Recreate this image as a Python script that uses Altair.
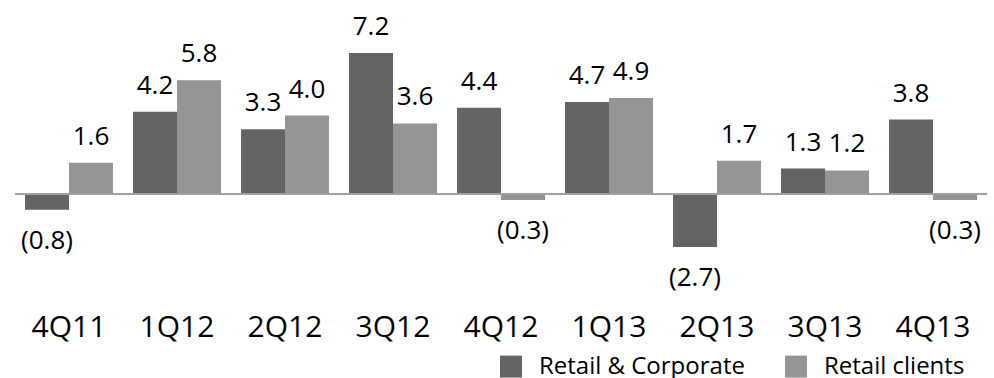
import altair as alt
import pandas as pd

quarters = ["4Q11", "1Q12", "2Q12", "3Q12", "4Q12", "1Q13", "2Q13", "3Q13", "4Q13"]
retail_corporate = [-0.8, 4.2, 3.3, 7.2, 4.4, 4.7, -2.7, 1.3, 3.8]
retail_clients = [1.6, 5.8, 4.0, 3.6, -0.3, 4.9, 1.7, 1.2, -0.3]
series = ["Retail & Corporate", "Retail clients"]
colors = ["#646464", "#959595"]

rows = []
for q, a, b in zip(quarters, retail_corporate, retail_clients):
    rows.append({"q": q, "s": series[0], "v": a})
    rows.append({"q": q, "s": series[1], "v": b})
df = pd.DataFrame(rows)
df["label"] = df["v"].apply(lambda v: f"{v:.1f}" if v >= 0 else f"({abs(v):.1f})")

FONT = "Open Sans"
W = 972
H = 254.8

x_enc = alt.X(
    "q:N", sort=quarters,
    scale=alt.Scale(paddingInner=20 / 108, paddingOuter=10 / 108),
    axis=alt.Axis(title=None, labelAngle=0, labelFontSize=30, labelFont=FONT,
                  labelColor="black", domain=False, ticks=False, grid=False,
                  labelPadding=64, labelBaseline="alphabetic"),
)
xo_enc = alt.XOffset("s:N", sort=series, scale=alt.Scale(paddingInner=0, paddingOuter=0))
y_enc = alt.Y("v:Q", scale=alt.Scale(domain=[-4, 9], nice=False, zero=False), axis=None)

base = alt.Chart(df)

bars = base.mark_bar().encode(
    x=x_enc, xOffset=xo_enc, y=y_enc, y2=alt.datum(0),
    color=alt.Color(
        "s:N", sort=series,
        scale=alt.Scale(domain=series, range=colors),
        legend=alt.Legend(title=None, orient="none", legendX=484, legendY=337,
                          direction="horizontal", symbolType="square", symbolSize=484,
                          symbolStrokeWidth=0, labelFontSize=24, labelFont=FONT,
                          labelColor="black", labelOffset=16, columnPadding=39,
                          labelLimit=0, padding=0, symbolOpacity=1),
    ),
)

pos_text = base.transform_filter("datum.v >= 0").mark_text(
    baseline="alphabetic", dy=-18, fontSize=26, font=FONT, color="black"
).encode(x=x_enc, xOffset=xo_enc, y=y_enc, text="label:N")

neg_text = base.transform_filter("datum.v < 0").mark_text(
    baseline="alphabetic", dy=39, fontSize=26, font=FONT, color="black"
).encode(x=x_enc, xOffset=xo_enc, y=y_enc, text="label:N")

zero = alt.Chart(pd.DataFrame({"v": [0]})).mark_rule(color="#a0a0a0", strokeWidth=2).encode(
    y=alt.Y("v:Q", scale=alt.Scale(domain=[-4, 9], nice=False, zero=False), axis=None)
)

chart = alt.layer(bars, zero, pos_text, neg_text).properties(
    width=W, height=H,
    autosize=alt.AutoSizeParams(type="none"),
    padding={"left": 15, "top": 17.6, "right": 7, "bottom": 105.6},
).configure(background="white", view=alt.ViewConfig(stroke=None))

chart.save("out.html", embed_options={"renderer": "svg", "actions": False})
